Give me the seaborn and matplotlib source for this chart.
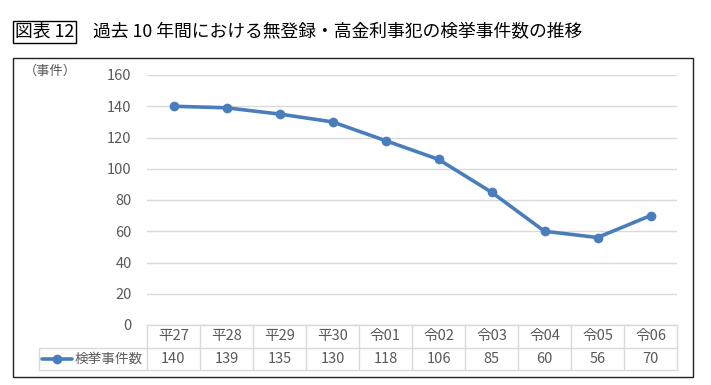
import numpy as np
import pandas as pd
import matplotlib
matplotlib.use("Agg")
import matplotlib.pyplot as plt
from matplotlib.patches import Rectangle
from matplotlib.lines import Line2D
import seaborn as sns

# データ
years = ["平27", "平28", "平29", "平30", "令01", "令02", "令03", "令04", "令05", "令06"]
counts = [140, 139, 135, 130, 118, 106, 85, 60, 56, 70]
series_name = "検挙事件数"
y_ticks = [0, 20, 40, 60, 80, 100, 120, 140, 160]

sns.set_theme(style="white")
plt.rcParams["font.family"] = ["Noto Sans CJK JP", "DejaVu Sans"]

W, H = 711, 385
fig = plt.figure(figsize=(W / 100, H / 100), dpi=100)

def fx(px):
    return px / W

def fy(px):
    return 1 - px / H

line_color = "#4a7ebb"
grid_color = "#d9d9d9"
text_color = "#595959"

# 外枠
fig.patches.append(Rectangle((fx(13), fy(377)), fx(693) - fx(13), fy(58) - fy(377),
                             transform=fig.transFigure, fill=False,
                             edgecolor="#222222", linewidth=1.0))

# タイトル
fig.text(fx(15), fy(32), "図表 12", fontsize=12.8, va="center", ha="left",
         color="black",
         bbox=dict(boxstyle="square,pad=0.1", fc="white", ec="black", lw=1.0))
fig.text(fx(93), fy(32), "過去 10 年間における無登録・高金利事犯の検挙事件数の推移",
         fontsize=12.8, va="center", ha="left", color="black")

# グラフ本体
ax = fig.add_axes([fx(147), fy(325), fx(677) - fx(147), fy(75) - fy(325)])
df = pd.DataFrame({"year": years, "count": counts, "x": np.arange(len(years))})
sns.lineplot(data=df, x="x", y="count", ax=ax, color=line_color, linewidth=2.6,
             marker="o", markersize=7, markeredgewidth=0, zorder=3)
ax.set_xlim(-0.5, len(years) - 0.5)
ax.set_ylim(0, 160)
ax.set_yticks(y_ticks)
ax.set_yticklabels([str(v) for v in y_ticks], fontsize=10.5, color=text_color)
ax.set_xticks([])
ax.set_xlabel("")
ax.set_ylabel("")
ax.tick_params(axis="y", length=0, pad=11)
ax.yaxis.grid(True, color=grid_color, linewidth=1.0)
for s in ax.spines.values():
    s.set_visible(False)
fig.text(fx(24), fy(71), "（事件）", fontsize=9.5, color=text_color, va="center", ha="left")

# データテーブル
tax = fig.add_axes([fx(39), fy(370), fx(677) - fx(39), fy(325) - fy(370)])
col_w = (677 - 147) / len(years)
left = -0.5 - (147 - 39) / col_w
tax.set_xlim(left, len(years) - 0.5)
tax.set_ylim(0, 2)
tax.axis("off")
n = len(years)
kw = dict(color=grid_color, linewidth=1.0, clip_on=False)
# 横線
tax.plot([-0.5, n - 0.5], [2, 2], **kw)
tax.plot([left, n - 0.5], [1, 1], **kw)
tax.plot([left, n - 0.5], [0, 0], **kw)
# 縦線
for i in range(n + 1):
    tax.plot([i - 0.5, i - 0.5], [0, 2], **kw)
tax.plot([left, left], [0, 1], **kw)
for i, (yr, c) in enumerate(zip(years, counts)):
    tax.text(i, 1.5, yr, ha="center", va="center", fontsize=10.5, color=text_color)
    tax.text(i, 0.5, str(c), ha="center", va="center", fontsize=10.5, color=text_color)
# 凡例キー
key_x0 = left + 3 / col_w
key_x1 = left + 33 / col_w
tax.add_line(Line2D([key_x0, key_x1], [0.5, 0.5], color=line_color, linewidth=2.6,
                    clip_on=False))
tax.plot([(key_x0 + key_x1) / 2], [0.5], "o", color=line_color, markersize=7,
         markeredgewidth=0, clip_on=False)
tax.text(left + 36 / col_w, 0.5, series_name, ha="left", va="center", fontsize=9.8,
         color=text_color)

fig.savefig("out.png", dpi=100)
